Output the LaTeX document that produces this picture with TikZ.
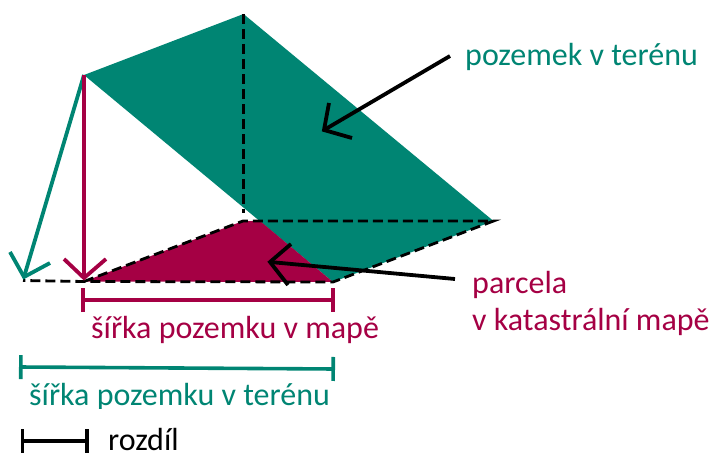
\documentclass[tikz,border=0pt]{standalone}
\usepackage{fontspec}
\setmainfont{Carlito}
\usetikzlibrary{arrows.meta}
\definecolor{tealc}{HTML}{008573}
\definecolor{crim}{HTML}{A50044}
\tikzset{
 x=1pt,y=-1pt,
 lbl/.style={inner sep=0pt,anchor=base west,font=\fontsize{32}{38}\selectfont},
 dsh/.style={draw=black,line width=2.8pt,dash pattern=on 10pt off 5pt},
 shaft/.style={line width=3.8pt},
 head/.style={line width=3.8pt,line join=miter},
 bar/.style={line width=3.6pt,{Bar[width=24pt,line width=3.6pt]}-{Bar[width=24pt,line width=3.6pt]}}
}
\begin{document}
\begin{tikzpicture}
\useasboundingbox (0,0) rectangle (714,452);
\coordinate (T) at (243.5,14);
\coordinate (L) at (84,75);
\coordinate (R) at (493.5,221);
\coordinate (B) at (333,282);
\coordinate (LB) at (84,281.5);
\coordinate (M) at (243,221);
\coordinate (MT) at (260,221);
\coordinate (G) at (23,280.5);
\fill[tealc] (L) -- (T) -- (R) -- (B) -- cycle;
\fill[crim] (LB) -- (M) -- (MT) -- (B) -- cycle;
\draw[dsh] (T) -- (243.5,213);
\draw[dsh] (LB) -- (M) -- (R) -- (B) -- (LB) -- (G);
\draw[tealc,shaft] (L) -- (24,277);
\draw[tealc,head] (10,252) -- (24,277) -- (50,263);
\draw[crim,shaft] (L) -- (84,278);
\draw[crim,head] (64,259) -- (84,278) -- (106,259);
\coordinate (a1) at (450,56);
\coordinate (a2) at (324,130);
\coordinate (b1) at (455,279);
\coordinate (b2) at (270,262);
\draw[black,shaft] (a1) -- (a2);
\draw[black,head] (329,103) -- (a2) -- (352,138);
\draw[black,shaft] (b1) -- (b2);
\draw[black,head] (291,244) -- (b2) -- (288,285);
\coordinate (c1) at (81,300);
\coordinate (c2) at (335,300);
\coordinate (d1) at (19,367);
\coordinate (d2) at (335,369);
\coordinate (e1) at (20.5,441);
\coordinate (e2) at (89,441);
\draw[crim,bar] (c1) -- (c2);
\draw[tealc,bar] (d1) -- (d2);
\draw[black,bar] (e1) -- (e2);
\node[lbl,text=tealc] (n1) at (465,66) {pozemek v terénu};
\node[lbl,text=crim] (n2) at (472,293) {parcela};
\node[lbl,text=crim] (n3) at (472,330) {v katastrální mapě};
\node[lbl,text=crim] (n4) at (91,338) {šířka pozemku v mapě};
\begin{scope}
\clip (0,340) rectangle (714,408);
\node[lbl,text=tealc] (n5) at (29,405) {šířka pozemku v terénu};
\end{scope}
\node[lbl,text=black] (n6) at (108,450) {rozdíl};
\end{tikzpicture}
\end{document}
